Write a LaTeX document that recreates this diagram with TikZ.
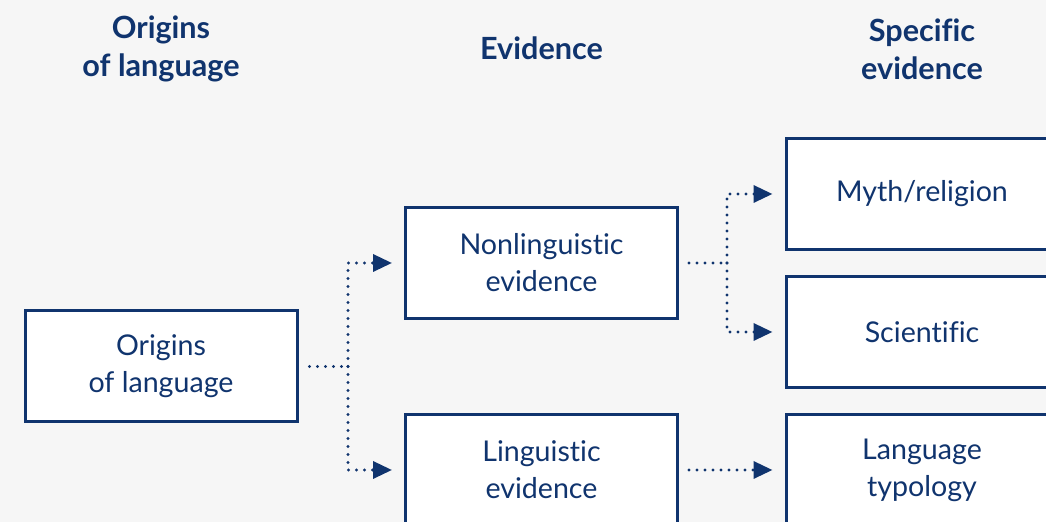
\documentclass[tikz,border=0pt]{standalone}
\usepackage{fontspec}
\setmainfont[Ligatures=NoCommon]{Lato}
\usetikzlibrary{arrows.meta,positioning,calc}
\definecolor{navy}{RGB}{16,52,110}
\definecolor{bg}{RGB}{246,246,246}
\begin{document}
\begin{tikzpicture}[x=0.5pt,y=-0.5pt,
  box/.style={draw=navy,line width=1.5pt,fill=white,minimum width=136pt,minimum height=55.5pt,
    inner sep=0pt,align=center,text=navy,font=\fontsize{14.3}{18.5}\selectfont},
  head/.style={align=center,text=navy,font=\bfseries\fontsize{15.3}{19}\selectfont},
  dotline/.style={draw=navy,line width=1.7pt,line cap=round,dash pattern=on 0pt off 4pt},
  tip/.style={dotline,-{Triangle[length=9.5pt,width=8.5pt,line cap=butt]}}]
  % canvas
  \fill[bg] (0,0) rectangle (1046,522);
  \useasboundingbox (0,0) rectangle (1046,522);

  % column headings
  \node[head] (h1) at (161,49) {Origins\\of language};
  \node[head] (h2) at (541.5,48) {Evidence};
  \node[head] (h3) at (922,49) {Specific\\evidence};

  % boxes
  \node[box] (orig) at (161,366.5) {Origins\\of language};
  \node[box] (nonling) at (541.5,263) {Nonlinguistic\\evidence};
  \node[box] (ling) at (541.5,470) {Linguistic\\evidence};
  \node[box] (myth) at (922,194) {Myth/religion};
  \node[box] (sci) at (922,332) {Scientific};
  \node[box] (typ) at (922,470) {Language\\typology};

  % branch points
  \coordinate (j1) at (348,366.5);
  \coordinate (j2) at (727,263);

  % connectors
  \draw[dotline] ([xshift=5.5pt]orig.east) -- (j1);
  \draw[tip] (j1) |- ([xshift=-6pt]nonling.west);
  \draw[tip] (j1) |- ([xshift=-6pt]ling.west);
  \draw[dotline] ([xshift=5pt]nonling.east) -- (j2);
  \draw[tip] (j2) |- ([xshift=-6pt]myth.west);
  \draw[tip] (j2) |- ([xshift=-6pt]sci.west);
  \draw[tip] ([xshift=5pt]ling.east) -- ([xshift=-6pt]typ.west);
\end{tikzpicture}
\end{document}
